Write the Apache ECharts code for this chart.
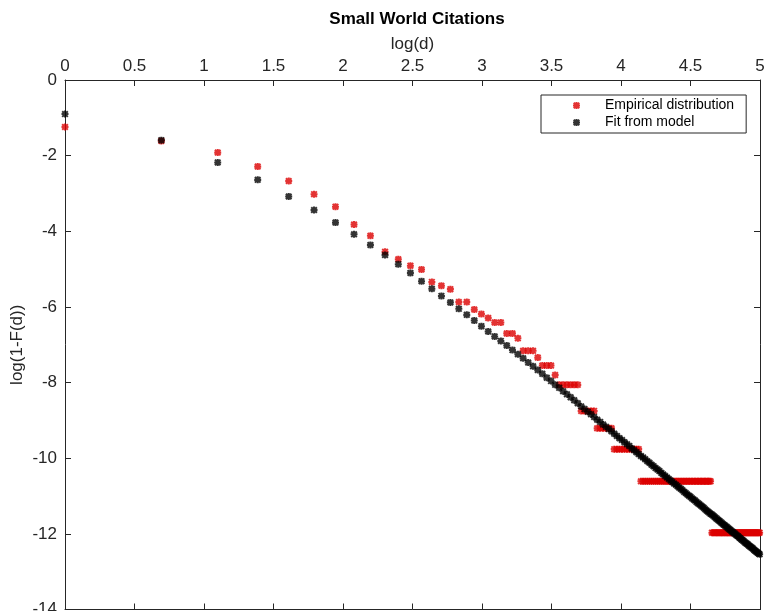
<!DOCTYPE html>
<html>
<head>
<meta charset="utf-8">
<title>Small World Citations</title>
<script src="https://cdn.jsdelivr.net/npm/echarts@6/dist/echarts.min.js"></script>
<style>
  html, body { margin: 0; padding: 0; background: #ffffff; }
  #chart { width: 766px; height: 611px; }
</style>
</head>
<body>
<div id="chart"></div>
<script>
// Degree d (x axis shows log(d))
const degree = [
  1, 2, 3, 4, 5, 6, 7, 8, 9, 10, 11, 12, 13, 14, 15, 16, 17, 18, 19, 20,
  21, 22, 23, 24, 25, 26, 27, 28, 29, 30, 31, 32, 33, 34, 35, 36, 37, 38, 39, 40,
  41, 42, 43, 44, 45, 46, 47, 48, 49, 50, 51, 52, 53, 54, 55, 56, 57, 58, 59, 60,
  61, 62, 63, 64, 65, 66, 67, 68, 69, 70, 71, 72, 73, 74, 75, 76, 77, 78, 79, 80,
  81, 82, 83, 84, 85, 86, 87, 88, 89, 90, 91, 92, 93, 94, 95, 96, 97, 98, 99, 100,
  101, 102, 103, 104, 105, 106, 107, 108, 109, 110, 111, 112, 113, 114, 115, 116, 117, 118, 119, 120,
  121, 122, 123, 124, 125, 126, 127, 128, 129, 130, 131, 132, 133, 134, 135, 136, 137, 138, 139, 140,
  141, 142, 143, 144, 145, 146, 147, 148
];

// log(1 - F(d)) of the empirical distribution
const empirical = [
  -1.24, -1.61, -1.92, -2.29, -2.67, -3.02, -3.35, -3.82, -4.12, -4.54,
  -4.74, -4.91, -5.01, -5.34, -5.44, -5.53, -5.87, -5.87, -6.07, -6.19,
  -6.29, -6.41, -6.41, -6.70, -6.70, -6.83, -7.16, -7.16, -7.16, -7.34,
  -7.55, -7.55, -7.55, -7.80, -8.06, -8.06, -8.06, -8.06, -8.06, -8.06,
  -8.75, -8.75, -8.75, -8.75, -8.75, -9.21, -9.21, -9.21, -9.21, -9.21,
  -9.21, -9.76, -9.76, -9.76, -9.76, -9.76, -9.76, -9.76, -9.76, -9.76,
  -9.76, -9.76, -10.61, -10.61, -10.61, -10.61, -10.61, -10.61, -10.61, -10.61,
  -10.61, -10.61, -10.61, -10.61, -10.61, -10.61, -10.61, -10.61, -10.61, -10.61,
  -10.61, -10.61, -10.61, -10.61, -10.61, -10.61, -10.61, -10.61, -10.61, -10.61,
  -10.61, -10.61, -10.61, -10.61, -10.61, -10.61, -10.61, -10.61, -10.61, -10.61,
  -10.61, -10.61, -10.61, -10.61, -11.97, -11.97, -11.97, -11.97, -11.97, -11.97,
  -11.97, -11.97, -11.97, -11.97, -11.97, -11.97, -11.97, -11.97, -11.97, -11.97,
  -11.97, -11.97, -11.97, -11.97, -11.97, -11.97, -11.97, -11.97, -11.97, -11.97,
  -11.97, -11.97, -11.97, -11.97, -11.97, -11.97, -11.97, -11.97, -11.97, -11.97,
  -11.97, -11.97, -11.97, -11.97, -11.97, -11.97, -11.97, -11.97
];

// log(1 - F(d)) predicted by the fitted model
const fitted = [
  -0.90, -1.59, -2.18, -2.64, -3.08, -3.44, -3.77, -4.08, -4.36, -4.63,
  -4.87, -5.10, -5.32, -5.52, -5.71, -5.88, -6.05, -6.21, -6.36, -6.51,
  -6.65, -6.78, -6.90, -7.02, -7.14, -7.25, -7.36, -7.47, -7.57, -7.67,
  -7.77, -7.87, -7.96, -8.06, -8.14, -8.23, -8.31, -8.39, -8.47, -8.55,
  -8.63, -8.70, -8.77, -8.84, -8.91, -8.98, -9.04, -9.11, -9.17, -9.23,
  -9.29, -9.35, -9.41, -9.47, -9.52, -9.58, -9.63, -9.68, -9.74, -9.79,
  -9.84, -9.89, -9.94, -9.98, -10.03, -10.08, -10.12, -10.17, -10.21, -10.26,
  -10.30, -10.34, -10.39, -10.43, -10.47, -10.51, -10.55, -10.59, -10.63, -10.67,
  -10.70, -10.74, -10.78, -10.81, -10.85, -10.89, -10.92, -10.96, -10.99, -11.02,
  -11.06, -11.09, -11.12, -11.16, -11.19, -11.22, -11.25, -11.28, -11.31, -11.35,
  -11.38, -11.41, -11.44, -11.47, -11.49, -11.52, -11.55, -11.58, -11.61, -11.64,
  -11.66, -11.69, -11.72, -11.75, -11.77, -11.80, -11.82, -11.85, -11.88, -11.90,
  -11.93, -11.95, -11.98, -12.00, -12.03, -12.05, -12.07, -12.10, -12.12, -12.15,
  -12.17, -12.19, -12.22, -12.24, -12.26, -12.28, -12.31, -12.33, -12.35, -12.37,
  -12.39, -12.42, -12.44, -12.46, -12.48, -12.50, -12.52, -12.54
];

const seriesNames = ['Empirical distribution', 'Fit from model'];
const seriesColors = ['#dc0000', '#000000'];

const FONT = '"Liberation Sans", Arial, Helvetica, sans-serif';
const AXIS_COLOR = '#262626';

// Asterisk marker built from four filled bars
const ASTERISK = 'path://M3.5 0h3v10h-3z M0 3.5h10v3h-10z ' +
  'M2 0L10 8L8 10L0 2z M8 0L10 2L2 10L0 8z';

function points(values) {
  return degree.map((d, i) => [Math.log(d), values[i]]);
}

const boxAxisLine = { show: true, onZero: false, lineStyle: { color: AXIS_COLOR, width: 1 } };
const boxTick = { show: true, inside: true, length: 6, lineStyle: { color: AXIS_COLOR, width: 1 } };

const chart = echarts.init(document.getElementById('chart'), null, { renderer: 'canvas' });

chart.setOption({
  animation: false,
  backgroundColor: '#ffffff',
  textStyle: { fontFamily: FONT },
  title: {
    text: 'Small World Citations',
    left: 412,
    textAlign: 'center',
    top: 6,
    textStyle: { fontFamily: FONT, fontSize: 17, fontWeight: 'bold', color: '#000000' }
  },
  grid: {
    left: 65, right: 6, top: 80, bottom: 1.5,
    containLabel: false,
    outerBoundsMode: 'none'
  },
  legend: {
    orient: 'vertical',
    left: 541,
    top: 95,
    data: seriesNames,
    itemWidth: 7,
    itemHeight: 7,
    itemGap: 0,
    padding: [2, 12, 2, 32],
    borderColor: '#262626',
    borderWidth: 1,
    backgroundColor: '#ffffff',
    textStyle: { fontFamily: FONT, fontSize: 14, color: '#000000', lineHeight: 17, padding: [0, 0, 0, 20] }
  },
  xAxis: [
    {
      type: 'value',
      position: 'top',
      min: 0, max: 5, interval: 0.5,
      name: 'log(d)',
      nameLocation: 'middle',
      nameGap: 27,
      nameMoveOverlap: false,
      nameTextStyle: { fontFamily: FONT, fontSize: 17, color: AXIS_COLOR },
      axisLine: boxAxisLine,
      axisTick: boxTick,
      axisLabel: { fontFamily: FONT, fontSize: 17, color: AXIS_COLOR, margin: 5 },
      splitLine: { show: false }
    },
    {
      type: 'value',
      position: 'bottom',
      min: 0, max: 5, interval: 0.5,
      axisLine: boxAxisLine,
      axisTick: boxTick,
      axisLabel: { show: false },
      splitLine: { show: false }
    }
  ],
  yAxis: [
    {
      type: 'value',
      position: 'left',
      min: -14, max: 0, interval: 2,
      name: 'log(1-F(d))',
      nameLocation: 'middle',
      nameGap: 39,
      nameMoveOverlap: false,
      nameTextStyle: { fontFamily: FONT, fontSize: 17, color: AXIS_COLOR },
      axisLine: boxAxisLine,
      axisTick: boxTick,
      axisLabel: { fontFamily: FONT, fontSize: 17, color: AXIS_COLOR, margin: 8 },
      splitLine: { show: false }
    },
    {
      type: 'value',
      position: 'right',
      min: -14, max: 0, interval: 2,
      axisLine: boxAxisLine,
      axisTick: boxTick,
      axisLabel: { show: false },
      splitLine: { show: false }
    }
  ],
  series: [
    {
      name: seriesNames[0],
      type: 'scatter',
      xAxisIndex: 0,
      yAxisIndex: 0,
      symbol: ASTERISK,
      symbolSize: 7,
      itemStyle: { color: seriesColors[0] },
      data: points(empirical)
    },
    {
      name: seriesNames[1],
      type: 'scatter',
      xAxisIndex: 0,
      yAxisIndex: 0,
      symbol: ASTERISK,
      symbolSize: 7,
      itemStyle: { color: seriesColors[1] },
      data: points(fitted)
    }
  ]
});
</script>
</body>
</html>
